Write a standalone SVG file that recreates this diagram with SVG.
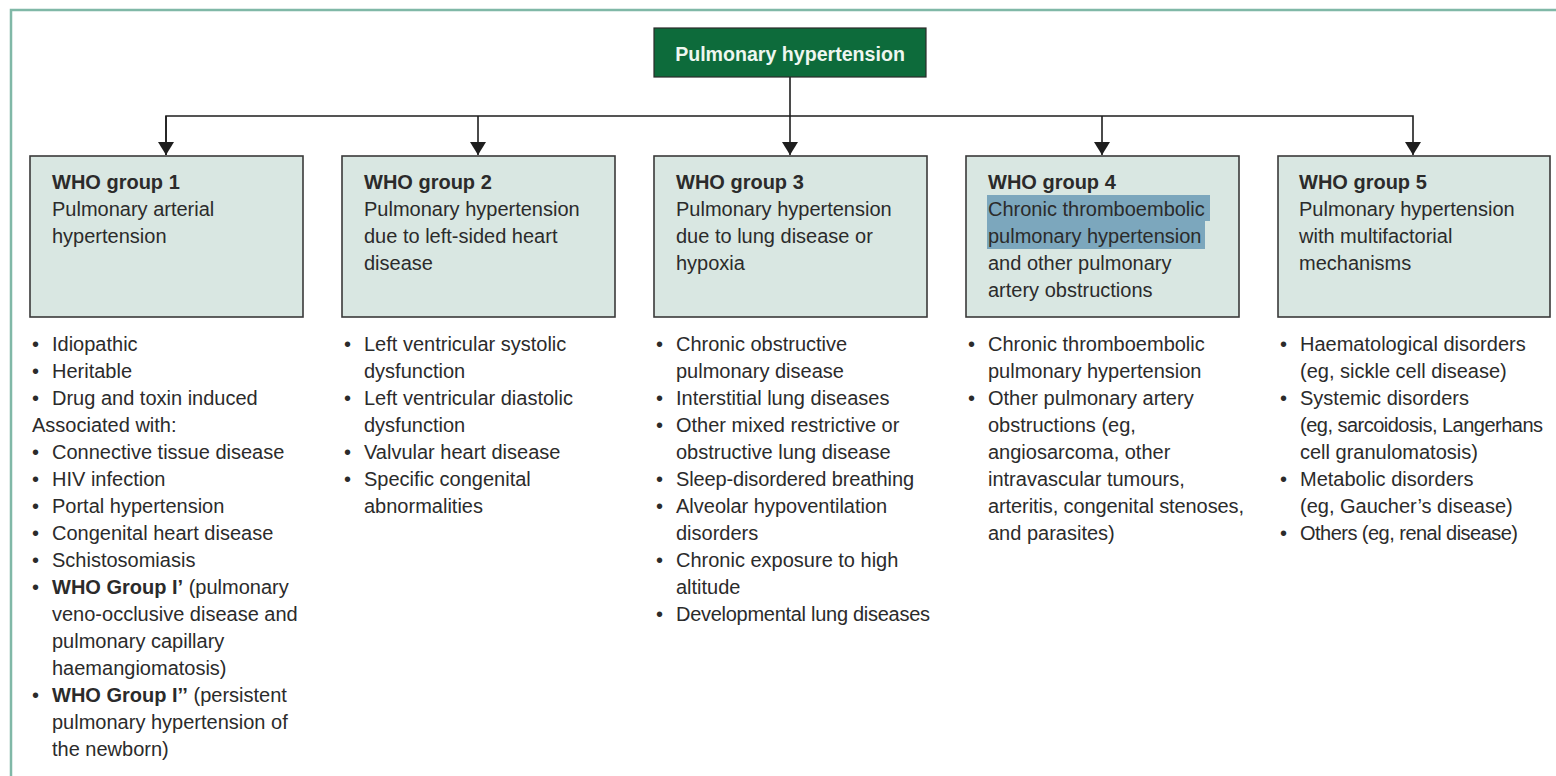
<svg xmlns="http://www.w3.org/2000/svg" width="1556" height="776" viewBox="0 0 1556 776">
  <style>
    text { font-family: "Liberation Sans", Arial, sans-serif; font-size: 20px; fill: #2b2b2b; }
    .title { font-weight: bold; }
    .root-label { font-weight: bold; fill: #eef7f0; font-size: 19.6px; }
    .box { fill: #d9e7e2; stroke: #3a3a3a; stroke-width: 1.6; }
    .root { fill: #0d6b3b; stroke: #2a2a2a; stroke-width: 1.2; }
    .wire { fill: none; stroke: #1e1e1e; stroke-width: 1.6; }
    .frame { fill: none; stroke: #80b8a7; stroke-width: 2.5; }
    .mark { fill: #7ca7bd; }
  </style>
  <defs>
    <marker id="arrow" markerUnits="userSpaceOnUse" markerWidth="14" markerHeight="17" refX="13" refY="8" orient="auto" viewBox="0 0 14 17">
      <path d="M0,0 L13,8 L0,16 z" fill="#1e1e1e"/>
    </marker>
  </defs>

  <rect width="1556" height="776" fill="#ffffff"/>
  <!-- page frame -->
  <path class="frame" d="M11,776 V10 H1556"/>

  <!-- connectors -->
  <g id="connectors">
    <path class="wire" d="M790,77 V155" marker-end="url(#arrow)"/>
    <path class="wire" d="M166,155 V116 H1413 V155" marker-end="url(#arrow)"/>
    <path class="wire" d="M166,116 V155" marker-end="url(#arrow)"/>
    <path class="wire" d="M478,116 V155" marker-end="url(#arrow)"/>
    <path class="wire" d="M1102,116 V155" marker-end="url(#arrow)"/>
  </g>

  <!-- root -->
  <g id="root">
    <rect class="root" x="654" y="28" width="272" height="49"/>
    <text class="root-label" x="790" y="61" text-anchor="middle">Pulmonary hypertension</text>
  </g>

  <!-- group 1 -->
  <g id="who1">
    <rect class="box" x="30" y="156" width="273" height="161"/>
    <text class="title" x="52" y="189">WHO group 1</text>
    <text x="52" y="216">Pulmonary arterial</text>
    <text x="52" y="243">hypertension</text>
  </g>
  <g id="who1-list">
    <text x="32" y="351">•</text><text x="52" y="351">Idiopathic</text>
    <text x="32" y="378">•</text><text x="52" y="378">Heritable</text>
    <text x="32" y="405">•</text><text x="52" y="405">Drug and toxin induced</text>
    <text x="32" y="432">Associated with:</text>
    <text x="32" y="459">•</text><text x="52" y="459">Connective tissue disease</text>
    <text x="32" y="486">•</text><text x="52" y="486">HIV infection</text>
    <text x="32" y="513">•</text><text x="52" y="513">Portal hypertension</text>
    <text x="32" y="540">•</text><text x="52" y="540">Congenital heart disease</text>
    <text x="32" y="567">•</text><text x="52" y="567">Schistosomiasis</text>
    <text x="32" y="594">•</text><text x="52" y="594"><tspan font-weight="bold">WHO Group I’</tspan> (pulmonary</text>
    <text x="52" y="621">veno-occlusive disease and</text>
    <text x="52" y="648">pulmonary capillary</text>
    <text x="52" y="675">haemangiomatosis)</text>
    <text x="32" y="702">•</text><text x="52" y="702"><tspan font-weight="bold">WHO Group I’’</tspan> (persistent</text>
    <text x="52" y="729">pulmonary hypertension of</text>
    <text x="52" y="756">the newborn)</text>
  </g>

  <!-- group 2 -->
  <g id="who2">
    <rect class="box" x="342" y="156" width="273" height="161"/>
    <text class="title" x="364" y="189">WHO group 2</text>
    <text x="364" y="216">Pulmonary hypertension</text>
    <text x="364" y="243">due to left-sided heart</text>
    <text x="364" y="270">disease</text>
  </g>
  <g id="who2-list">
    <text x="344" y="351">•</text><text x="364" y="351">Left ventricular systolic</text>
    <text x="364" y="378">dysfunction</text>
    <text x="344" y="405">•</text><text x="364" y="405">Left ventricular diastolic</text>
    <text x="364" y="432">dysfunction</text>
    <text x="344" y="459">•</text><text x="364" y="459">Valvular heart disease</text>
    <text x="344" y="486">•</text><text x="364" y="486">Specific congenital</text>
    <text x="364" y="513">abnormalities</text>
  </g>

  <!-- group 3 -->
  <g id="who3">
    <rect class="box" x="654" y="156" width="273" height="161"/>
    <text class="title" x="676" y="189">WHO group 3</text>
    <text x="676" y="216">Pulmonary hypertension</text>
    <text x="676" y="243">due to lung disease or</text>
    <text x="676" y="270">hypoxia</text>
  </g>
  <g id="who3-list">
    <text x="656" y="351">•</text><text x="676" y="351">Chronic obstructive</text>
    <text x="676" y="378">pulmonary disease</text>
    <text x="656" y="405">•</text><text x="676" y="405">Interstitial lung diseases</text>
    <text x="656" y="432">•</text><text x="676" y="432">Other mixed restrictive or</text>
    <text x="676" y="459">obstructive lung disease</text>
    <text x="656" y="486">•</text><text x="676" y="486" textLength="238" lengthAdjust="spacing">Sleep-disordered breathing</text>
    <text x="656" y="513">•</text><text x="676" y="513">Alveolar hypoventilation</text>
    <text x="676" y="540">disorders</text>
    <text x="656" y="567">•</text><text x="676" y="567">Chronic exposure to high</text>
    <text x="676" y="594">altitude</text>
    <text x="656" y="621">•</text><text x="676" y="621" textLength="254" lengthAdjust="spacing">Developmental lung diseases</text>
  </g>

  <!-- group 4 -->
  <g id="who4">
    <rect class="box" x="966" y="156" width="273" height="161"/>
    <rect class="mark" x="987" y="195" width="223" height="26"/>
    <rect class="mark" x="987" y="221" width="218" height="28"/>
    <text class="title" x="988" y="189">WHO group 4</text>
    <text x="988" y="216">Chronic thromboembolic</text>
    <text x="988" y="243">pulmonary hypertension</text>
    <text x="988" y="270">and other pulmonary</text>
    <text x="988" y="297">artery obstructions</text>
  </g>
  <g id="who4-list">
    <text x="968" y="351">•</text><text x="988" y="351">Chronic thromboembolic</text>
    <text x="988" y="378">pulmonary hypertension</text>
    <text x="968" y="405">•</text><text x="988" y="405">Other pulmonary artery</text>
    <text x="988" y="432">obstructions (eg,</text>
    <text x="988" y="459">angiosarcoma, other</text>
    <text x="988" y="486">intravascular tumours,</text>
    <text x="988" y="513" textLength="256" lengthAdjust="spacing">arteritis, congenital stenoses,</text>
    <text x="988" y="540">and parasites)</text>
  </g>

  <!-- group 5 -->
  <g id="who5">
    <rect class="box" x="1278" y="156" width="272" height="161"/>
    <text class="title" x="1299" y="189">WHO group 5</text>
    <text x="1299" y="216">Pulmonary hypertension</text>
    <text x="1299" y="243">with multifactorial</text>
    <text x="1299" y="270">mechanisms</text>
  </g>
  <g id="who5-list">
    <text x="1280" y="351">•</text><text x="1300" y="351">Haematological disorders</text>
    <text x="1300" y="378">(eg, sickle cell disease)</text>
    <text x="1280" y="405">•</text><text x="1300" y="405">Systemic disorders</text>
    <text x="1300" y="432" textLength="243" lengthAdjust="spacing">(eg, sarcoidosis, Langerhans</text>
    <text x="1300" y="459">cell granulomatosis)</text>
    <text x="1280" y="486">•</text><text x="1300" y="486">Metabolic disorders</text>
    <text x="1300" y="513">(eg, Gaucher’s disease)</text>
    <text x="1280" y="540">•</text><text x="1300" y="540" textLength="218" lengthAdjust="spacing">Others (eg, renal disease)</text>
  </g>
</svg>
